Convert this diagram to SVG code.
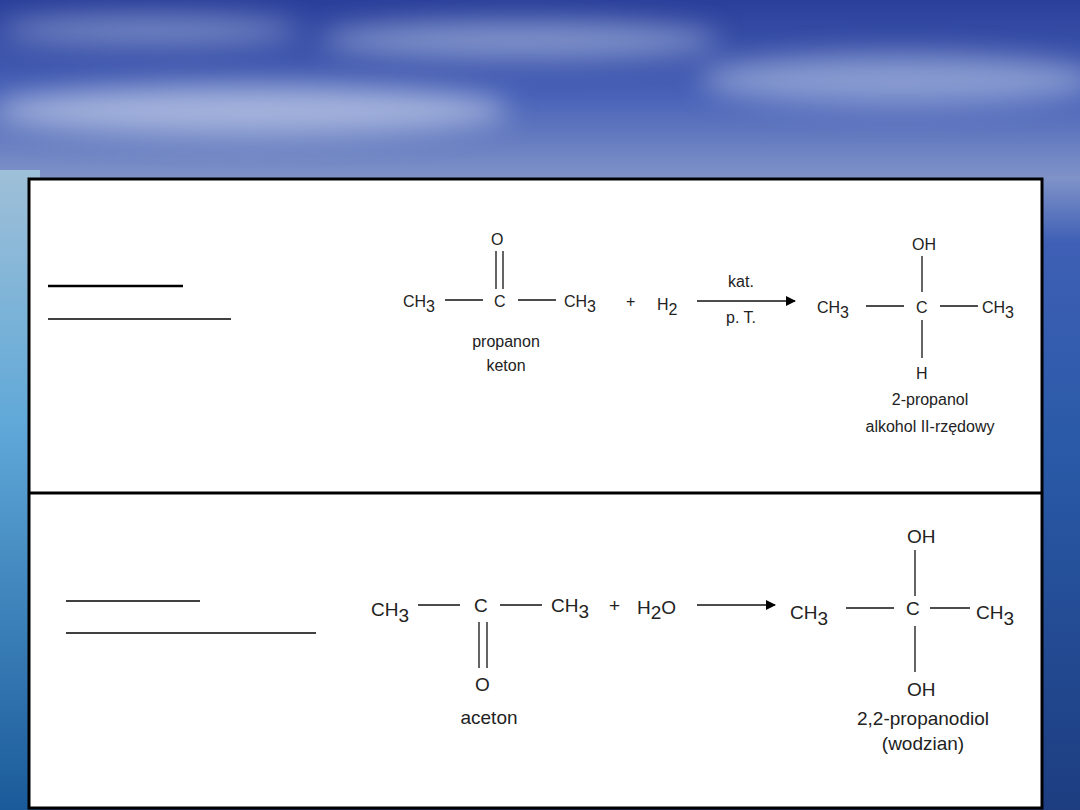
<svg xmlns="http://www.w3.org/2000/svg" width="1080" height="810" viewBox="0 0 1080 810">
<defs>
<linearGradient id="sky" x1="0" y1="0" x2="0" y2="1">
<stop offset="0" stop-color="#2a3f9a"/><stop offset="0.12" stop-color="#4a63b8"/><stop offset="0.22" stop-color="#7f93c8"/><stop offset="0.3" stop-color="#3e5fb5"/><stop offset="0.55" stop-color="#2a5aa8"/><stop offset="1" stop-color="#1d3d80"/>
</linearGradient>
<linearGradient id="left" x1="0" y1="0" x2="0" y2="1">
<stop offset="0" stop-color="#9fc0d8"/><stop offset="0.4" stop-color="#5fa8d8"/><stop offset="1" stop-color="#1a5a9a"/>
</linearGradient>
<filter id="blur" x="-20%" y="-50%" width="140%" height="200%"><feGaussianBlur stdDeviation="14"/></filter>
<marker id="ah" markerWidth="10" markerHeight="10" refX="9" refY="5" orient="auto" markerUnits="userSpaceOnUse"><path d="M0,0 L10,5 L0,10 z" fill="#000"/></marker>
<style>
.t{font-family:"Liberation Sans",Arial,sans-serif;fill:#222}
.s{font-size:16px}.b{font-size:19px}
.l{stroke:#111;stroke-width:1.3;fill:none}
</style>
</defs>
<rect width="1080" height="810" fill="url(#sky)"/>
<rect x="0" y="170" width="40" height="640" fill="url(#left)"/>
<g filter="url(#blur)">
<ellipse cx="250" cy="110" rx="260" ry="25" fill="#c8d2ea" opacity="0.7"/>
<ellipse cx="520" cy="40" rx="200" ry="18" fill="#b8c6e4" opacity="0.6"/>
<ellipse cx="900" cy="80" rx="200" ry="25" fill="#b8c6e4" opacity="0.6"/>
<ellipse cx="150" cy="30" rx="150" ry="14" fill="#a8b8dc" opacity="0.6"/>
</g>
<rect x="29" y="179" width="1013" height="629" fill="#fff" stroke="#000" stroke-width="3"/>
<line x1="29" y1="493" x2="1042" y2="493" stroke="#000" stroke-width="3"/>
<g id="blanks">
<line x1="48" y1="286" x2="183" y2="286" stroke="#000" stroke-width="2.5"/>
<line x1="48" y1="319" x2="231" y2="319" stroke="#000" stroke-width="1.5"/>
<line x1="66" y1="601" x2="200" y2="601" stroke="#000" stroke-width="1.5"/>
<line x1="66" y1="633" x2="316" y2="633" stroke="#000" stroke-width="1.5"/>
</g>
<g id="propanon">
<text class="t s" x="491" y="245">O</text>
<line class="l" x1="496" y1="251" x2="496" y2="289"/><line class="l" x1="503" y1="251" x2="503" y2="289"/>
<text class="t s" x="403" y="307">CH<tspan dy="5">3</tspan></text>
<line class="l" x1="445" y1="300" x2="483" y2="300"/>
<text class="t s" x="494" y="307">C</text>
<line class="l" x1="518" y1="300" x2="556" y2="300"/>
<text class="t s" x="564" y="307">CH<tspan dy="5">3</tspan></text>
<text class="t s" x="506" y="347" text-anchor="middle">propanon</text>
<text class="t s" x="506" y="371" text-anchor="middle">keton</text>
</g>
<text class="t s" x="626" y="307">+</text>
<text class="t s" x="657" y="310">H<tspan dy="5">2</tspan></text>
<g id="c1"><line class="l" x1="697" y1="301" x2="795" y2="301" marker-end="url(#ah)"/></g>
<text class="t s" x="741" y="287" text-anchor="middle">kat.</text>
<text class="t s" x="741" y="323" text-anchor="middle">p. T.</text>
<g id="propanol">
<text class="t s" x="912" y="250">OH</text>
<line class="l" x1="922" y1="256" x2="922" y2="292"/>
<text class="t s" x="817" y="313">CH<tspan dy="5">3</tspan></text>
<line class="l" x1="866" y1="306" x2="904" y2="306"/>
<text class="t s" x="916" y="313">C</text>
<line class="l" x1="940" y1="306" x2="978" y2="306"/>
<text class="t s" x="982" y="313">CH<tspan dy="5">3</tspan></text>
<line class="l" x1="922" y1="320" x2="922" y2="358"/>
<text class="t s" x="916" y="379">H</text>
<text class="t s" x="930" y="405" text-anchor="middle">2-propanol</text>
<text class="t s" x="930" y="432" text-anchor="middle">alkohol  II-rzędowy</text>
</g>
<g id="aceton">
<text class="t b" x="371" y="616">CH<tspan dy="6">3</tspan></text>
<line class="l" x1="418" y1="605" x2="460" y2="605"/>
<text class="t b" x="474" y="612">C</text>
<line class="l" x1="500" y1="605" x2="542" y2="605"/>
<text class="t b" x="551" y="612">CH<tspan dy="6">3</tspan></text>
<line class="l" x1="479" y1="622" x2="479" y2="668"/><line class="l" x1="487" y1="622" x2="487" y2="668"/>
<text class="t b" x="475" y="691">O</text>
<text class="t b" x="489" y="724" text-anchor="middle">aceton</text>
</g>
<text class="t b" x="609" y="612">+</text>
<text class="t b" x="637" y="614">H<tspan dy="5">2</tspan><tspan dy="-5">O</tspan></text>
<g id="c2"><line class="l" x1="697" y1="605" x2="775" y2="605" marker-end="url(#ah)"/></g>
<g id="diol">
<text class="t b" x="907" y="543">OH</text>
<line class="l" x1="915" y1="550" x2="915" y2="596"/>
<text class="t b" x="790" y="619">CH<tspan dy="6">3</tspan></text>
<line class="l" x1="846" y1="608" x2="894" y2="608"/>
<text class="t b" x="906" y="615">C</text>
<line class="l" x1="930" y1="608" x2="970" y2="608"/>
<text class="t b" x="976" y="619">CH<tspan dy="6">3</tspan></text>
<line class="l" x1="915" y1="626" x2="915" y2="672"/>
<text class="t b" x="907" y="696">OH</text>
<text class="t b" x="923" y="725" text-anchor="middle">2,2-propanodiol</text>
<text class="t b" x="923" y="750" text-anchor="middle">(wodzian)</text>
</g>
</svg>
